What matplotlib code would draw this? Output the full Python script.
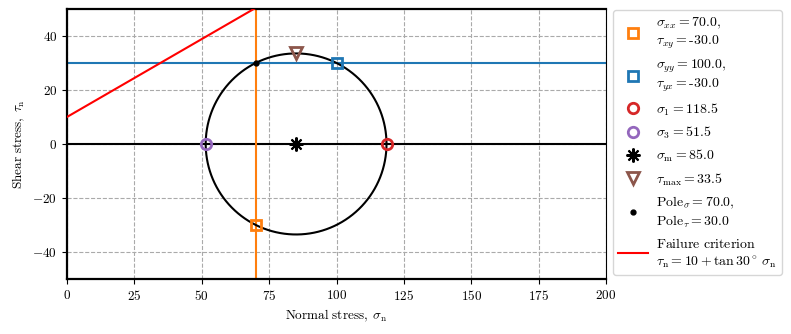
import matplotlib
matplotlib.use("Agg")
import matplotlib.pyplot as plt
import numpy as np

plt.rcParams['font.family'] = 'serif'
plt.rcParams['font.serif'] = ['cmr10']
plt.rcParams['mathtext.fontset'] = 'cm'
plt.rcParams['axes.formatter.use_mathtext'] = True
plt.rcParams['font.size'] = 9.5

# Stress state
sigma_xx = 70.0
sigma_yy = 100.0
tau_xy = -30.0
tau_yx = -30.0

# Failure criterion: tau = c + tan(phi) * sigma
cohesion = 10.0
phi_deg = 30.0

xlim = (0, 200)
ylim = (-50, 50)
xticks = [0, 25, 50, 75, 100, 125, 150, 175, 200]
yticks = [-40, -20, 0, 20, 40]

# Mohr circle quantities
sigma_m = (sigma_xx + sigma_yy) / 2
radius = np.sqrt(((sigma_xx - sigma_yy) / 2) ** 2 + tau_xy ** 2)
sigma_1 = sigma_m + radius
sigma_3 = sigma_m - radius
tau_max = radius
pole_sigma = sigma_xx
pole_tau = -tau_xy

fig = plt.figure(figsize=(7.91, 3.34), dpi=100)
ax = fig.add_axes([0.0847, 0.165, 0.6815, 0.808])

theta = np.linspace(0, 2 * np.pi, 400)
ax.plot(sigma_m + radius * np.cos(theta), radius * np.sin(theta), color='black', lw=1.5, zorder=3)
ax.axhline(0, color='black', lw=1.5, zorder=2)
ax.axvline(sigma_xx, color='tab:orange', lw=1.5, zorder=2)
ax.axhline(pole_tau, color='tab:blue', lw=1.5, zorder=2)

ax.plot(sigma_xx, tau_xy, 's', mfc='none', mec='tab:orange', mew=2, ms=7, zorder=5,
        label=r'$\sigma_{xx} = 70.0,$' + '\n' + r'$\tau_{xy} = \mathrm{\text{-}30.0}$')
ax.plot(sigma_yy, -tau_yx, 's', mfc='none', mec='tab:blue', mew=2, ms=7, zorder=5,
        label=r'$\sigma_{yy} = 100.0,$' + '\n' + r'$\tau_{yx} = \mathrm{\text{-}30.0}$')
ax.plot(sigma_1, 0, 'o', mfc='none', mec='tab:red', mew=2, ms=7.5, zorder=5,
        label=r'$\sigma_1 = %.1f$' % sigma_1)
ax.plot(sigma_3, 0, 'o', mfc='none', mec='tab:purple', mew=2, ms=7.5, zorder=5,
        label=r'$\sigma_3 = %.1f$' % sigma_3)
ax.plot(sigma_m, 0, marker=(8, 2, 0), ls='none', color='black', mew=1.5, ms=10, zorder=5,
        label=r'$\sigma_\mathrm{m} = %.1f$' % sigma_m)
ax.plot(sigma_m, tau_max, 'v', mfc='none', mec='tab:brown', mew=2, ms=8.5, zorder=5,
        label=r'$\tau_\mathrm{max} = %.1f$' % tau_max)
ax.plot(pole_sigma, pole_tau, '.', color='black', ms=7, zorder=5,
        label=r'$\mathrm{Pole}_\sigma = %.1f,$' % pole_sigma + '\n' + r'$\mathrm{Pole}_\tau = %.1f$' % pole_tau)

sn = np.linspace(xlim[0], xlim[1], 100)
ax.plot(sn, cohesion + np.tan(np.radians(phi_deg)) * sn, color='red', lw=1.5, zorder=4,
        label=r'$\mathrm{Failure\ criterion}$' + '\n' + r'$\tau_\mathrm{n} = 10 + \tan 30^\circ\, \sigma_\mathrm{n}$')

ax.set_xlim(*xlim)
ax.set_ylim(*ylim)
ax.set_xticks(xticks)
ax.set_yticks(yticks)
ax.grid(True, ls='--', color='#aaaaaa', lw=0.8)
ax.set_axisbelow(True)
for side in ['left', 'top', 'bottom']:
    ax.spines[side].set_linewidth(1.6)
ax.set_xlabel(r'$\mathrm{Normal\ stress,}\;\sigma_\mathrm{n}$')
ax.set_ylabel(r'$\mathrm{Shear\ stress,}\;\tau_\mathrm{n}$')

ax.legend(loc='upper left', bbox_to_anchor=(1.005, 1.01), borderaxespad=0.3,
          fontsize=10, labelspacing=0.5, handlelength=2.1, handletextpad=0.6)

fig.savefig('out.png', dpi=100)
